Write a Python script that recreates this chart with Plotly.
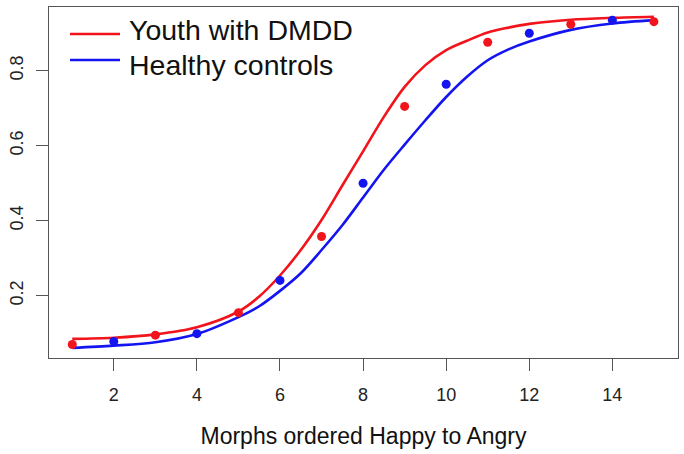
import plotly.graph_objects as go

# Observed proportions
dmdd_x = [1, 3, 5, 7, 9, 11, 13, 15]
dmdd_y = [0.070, 0.095, 0.155, 0.358, 0.705, 0.876, 0.924, 0.931]
hc_x = [2, 4, 6, 8, 10, 12, 14]
hc_y = [0.078, 0.099, 0.241, 0.500, 0.764, 0.900, 0.935]

# Fitted curves
curve_x = [1, 2, 3, 4, 5, 5.5, 6, 6.5, 7, 7.5, 8, 8.5, 9, 9.5, 10, 10.5, 11, 11.5, 12, 13, 14, 15]
dmdd_fit = [0.085, 0.088, 0.097, 0.116, 0.158, 0.198, 0.254, 0.322, 0.402, 0.494, 0.585, 0.677, 0.757, 0.815, 0.855, 0.880, 0.902, 0.915, 0.925, 0.936, 0.941, 0.944]
hc_fit = [0.061, 0.067, 0.076, 0.098, 0.143, 0.172, 0.213, 0.260, 0.322, 0.388, 0.462, 0.536, 0.603, 0.668, 0.730, 0.784, 0.828, 0.857, 0.878, 0.909, 0.926, 0.935]

x_ticks = [2, 4, 6, 8, 10, 12, 14]
y_ticks = [0.2, 0.4, 0.6, 0.8]
legend_names = ["Youth with DMDD", "Healthy controls"]
RED = "#f2141c"
BLUE = "#1414f0"
FONT = "Liberation Sans, Arial, sans-serif"

fig = go.Figure()
fig.add_trace(go.Scatter(x=curve_x, y=dmdd_fit, mode="lines", line=dict(color=RED, width=2.6, shape="spline", smoothing=0.9), name=legend_names[0], showlegend=False))
fig.add_trace(go.Scatter(x=curve_x, y=hc_fit, mode="lines", line=dict(color=BLUE, width=2.6, shape="spline", smoothing=0.9), name=legend_names[1], showlegend=False))
fig.add_trace(go.Scatter(x=dmdd_x, y=dmdd_y, mode="markers", marker=dict(color=RED, size=9), showlegend=False))
fig.add_trace(go.Scatter(x=hc_x, y=hc_y, mode="markers", marker=dict(color=BLUE, size=9), showlegend=False))

# Manual legend (R-style)
W, H = 684, 454
L, R, T, B = 49, 6, 7, 96
pw, ph = W - L - R, H - T - B
def px(xp):
    return (xp - L) / pw
def py(yp):
    return 1 - (yp - T) / ph

for i, (name, col) in enumerate(zip(legend_names, [RED, BLUE])):
    yline = [34, 60][i]
    ytext = [30, 65][i]
    fig.add_shape(type="line", xref="paper", yref="paper", x0=px(70), x1=px(120), y0=py(yline), y1=py(yline), line=dict(color=col, width=2.6))
    fig.add_annotation(xref="paper", yref="paper", x=px(127), y=py(ytext), text=name, showarrow=False, xanchor="left", yanchor="middle", font=dict(size=28.5, color="#111", family=FONT))

axis_common = dict(showline=True, linecolor="#555", linewidth=1.3, mirror=True, ticks="outside", ticklen=12, tickcolor="#555", tickwidth=1.3, showgrid=False, zeroline=False, tickfont=dict(size=18, color="#222", family=FONT))

fig.update_xaxes(range=[0.44, 15.58], tickvals=x_ticks, ticktext=[str(v) for v in x_ticks], ticklabelstandoff=8,
                 title=dict(text="Morphs ordered Happy to Angry", font=dict(size=23, color="#111", family=FONT), standoff=24), **axis_common)
fig.update_yaxes(range=[0.034, 0.970], tickvals=y_ticks, ticktext=[str(v) for v in y_ticks], tickangle=-90, ticklabelstandoff=6, **axis_common)

fig.update_layout(width=W, height=H, margin=dict(l=L, r=R, t=T, b=B), plot_bgcolor="white", paper_bgcolor="white", showlegend=False)
fig.write_html("out.html")
